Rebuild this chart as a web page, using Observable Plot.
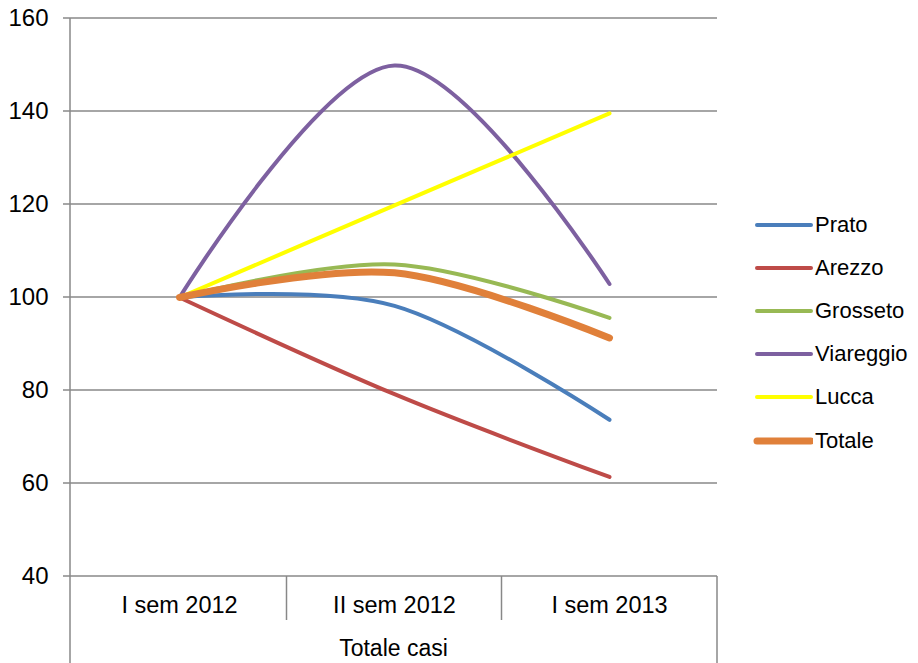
<!DOCTYPE html>
<html>
<head>
<meta charset="utf-8">
<script src="https://cdn.jsdelivr.net/npm/d3@7"></script>
<script src="https://cdn.jsdelivr.net/npm/@observablehq/plot@0.6"></script>
<style>
  body { margin: 0; background: #fff; }
  #chart { position: relative; width: 918px; height: 663px; font-family: "Liberation Sans", Arial, sans-serif; color: #000; }
  #legend { position: absolute; left: 752px; top: 203px; }
  .item { display: flex; align-items: center; height: 43.2px; font-size: 22px; }
  .item svg { margin-right: 2px; }
</style>
</head>
<body>
<div id="chart"></div>
<script>
// Semesters on the x axis and the group they belong to
const periods = ["I sem 2012", "II sem 2012", "I sem 2013"];
const groupLabel = "Totale casi";

// Index values (I sem 2012 = 100) per area
const prato     = [100, 98.2, 73.7];
const arezzo    = [100, 79.2, 61.4];
const grosseto  = [100, 107.1, 95.6];
const viareggio = [100, 149.9, 102.9];
const lucca     = [100, 119.8, 139.6];
const totale    = [100, 105.3, 91.3];

const seriesNames  = ["Prato", "Arezzo", "Grosseto", "Viareggio", "Lucca", "Totale"];
const seriesValues = [prato, arezzo, grosseto, viareggio, lucca, totale];
const seriesColors = ["#4A7EBB", "#BE4B48", "#98B954", "#7D60A0", "#FFFF00", "#E0803A"];
const seriesWidths = [4, 4, 4, 4, 4, 7];

const yTicks = [40, 60, 80, 100, 120, 140, 160];

const rows = seriesNames.flatMap((name, i) =>
  periods.map((p, j) => ({series: name, period: p, value: seriesValues[i][j]}))
);

const gridColor = "#888888";
const tickLength = 7;

// Horizontal gridlines with their outer ticks
function gridLines(index, scales, values, dims) {
  const y = scales.y;
  const left = dims.marginLeft;
  const right = dims.width - dims.marginRight;
  const g = d3.create("svg:g")
    .attr("stroke", gridColor)
    .attr("stroke-width", 1.5);
  for (const t of yTicks) {
    g.append("line")
      .attr("x1", left - tickLength).attr("x2", right)
      .attr("y1", y(t)).attr("y2", y(t));
  }
  return g.node();
}

// Axis frame: left axis line, right border below the plot, category separators, group label
function categoryFrame(index, scales, values, dims) {
  const x = scales.x;
  const left = dims.marginLeft;
  const right = dims.width - dims.marginRight;
  const top = dims.marginTop;
  const bottom = dims.height - dims.marginBottom;
  const centers = periods.map(p => x(p));
  const inner = d3.pairs(centers).map(([a, b]) => (a + b) / 2);
  const g = d3.create("svg:g")
    .attr("stroke", gridColor)
    .attr("stroke-width", 1.5)
    .attr("fill", "none");
  g.append("line").attr("x1", left).attr("x2", left).attr("y1", top).attr("y2", dims.height);
  g.append("line").attr("x1", right).attr("x2", right).attr("y1", bottom).attr("y2", dims.height);
  for (const xi of inner) {
    g.append("line").attr("x1", xi).attr("x2", xi).attr("y1", bottom).attr("y2", bottom + 44);
  }
  g.append("text")
    .attr("x", (left + right) / 2)
    .attr("y", dims.height - 7)
    .attr("text-anchor", "middle")
    .attr("stroke", "none")
    .attr("fill", "#000")
    .attr("font-size", 23)
    .text(groupLabel);
  return g.node();
}

const chart = Plot.plot({
  width: 918,
  height: 663,
  marginLeft: 70,
  marginRight: 201,
  marginTop: 18,
  marginBottom: 87,
  style: {fontFamily: "Liberation Sans, Arial, sans-serif", fontSize: "22px", background: "#fff", color: "#000"},
  x: {type: "point", domain: periods, padding: 0.5},
  y: {domain: [40, 160]},
  marks: [
    gridLines,
    Plot.axisY({ticks: yTicks, tickSize: 0, tickPadding: 22, label: null, fontSize: 24}),
    Plot.axisX({tickSize: 0, tickPadding: 20, label: null, fontSize: 23.5}),
    categoryFrame,
    ...seriesNames.map((name, i) =>
      Plot.line(rows.filter(d => d.series === name), {
        x: "period",
        y: "value",
        curve: "cardinal",
        stroke: seriesColors[i],
        strokeWidth: seriesWidths[i],
        strokeLinecap: "round",
        strokeLinejoin: "round"
      })
    )
  ]
});

const root = document.getElementById("chart");
root.appendChild(chart);

// Legend on the right
const legend = document.createElement("div");
legend.id = "legend";
seriesNames.forEach((name, i) => {
  const item = document.createElement("div");
  item.className = "item";
  item.innerHTML =
    `<svg width="61" height="12"><line x1="5" x2="59" y1="6" y2="6" stroke="${seriesColors[i]}" stroke-width="${seriesWidths[i]}" stroke-linecap="round"/></svg><span>${name}</span>`;
  legend.appendChild(item);
});
root.appendChild(legend);
</script>
</body>
</html>
